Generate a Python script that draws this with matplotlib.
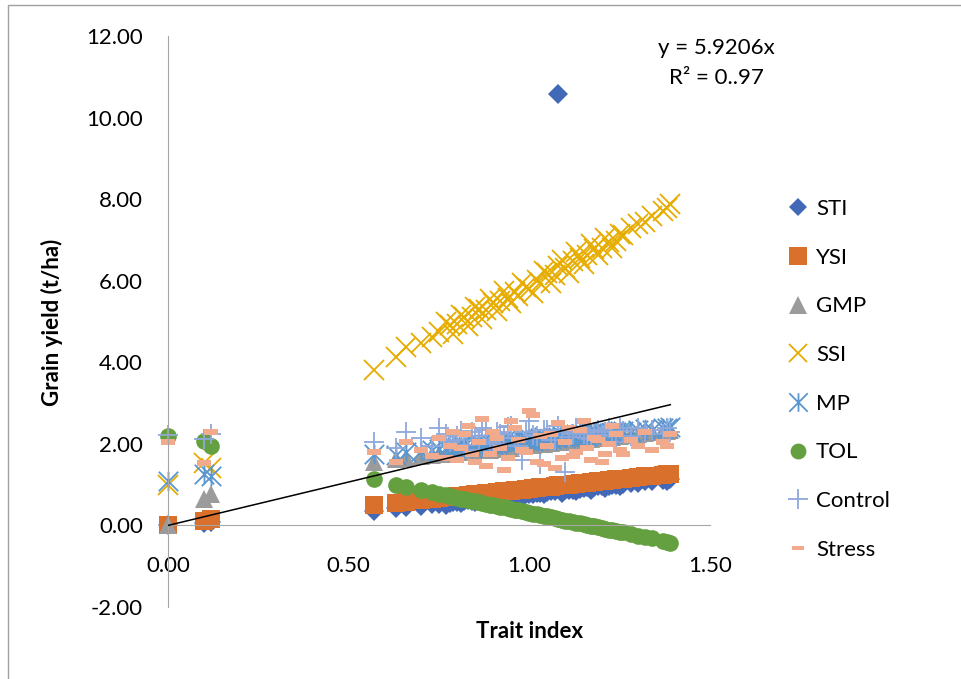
import matplotlib
matplotlib.use("Agg")
import matplotlib.pyplot as plt
from matplotlib.path import Path
from matplotlib.patches import Rectangle

plt.rcParams['font.family'] = ['Lato', 'DejaVu Sans']

# trait index values, first group of genotypes
trait_x = [0.00, 0.10, 0.12,
           0.57, 0.63, 0.66, 0.70, 0.73, 0.75, 0.78, 0.80, 0.82, 0.84,
           0.86, 0.88, 0.90, 0.92, 0.94, 0.96, 0.97, 0.99, 1.00, 1.02,
           1.03, 1.05, 1.07, 1.08, 1.10, 1.12, 1.14, 1.16, 1.18, 1.20,
           1.22, 1.24, 1.26, 1.28, 1.30, 1.32, 1.34, 1.37, 1.38, 1.39]

# second group (the dense middle part)
trait_x2 = [0.77, 0.79, 0.81, 0.83, 0.85, 0.87, 0.89, 0.91, 0.93, 0.95,
            0.98, 1.01, 1.04, 1.06, 1.09, 1.11, 1.13, 1.15, 1.17, 1.19,
            1.21, 1.23, 1.25]

sti = [0.00, 0.05, 0.08,
       0.35, 0.42, 0.44, 0.47, 0.52, 0.53, 0.56, 0.58, 0.60, 0.61,
       0.64, 0.66, 0.66, 0.70, 0.71, 0.72, 0.75, 0.76, 0.76, 0.80,
       0.79, 0.82, 0.84, 10.58, 0.86, 0.88, 0.89, 0.93, 0.93, 0.96,
       0.97, 1.00, 1.01, 1.04, 1.04, 1.08, 1.08, 1.12, 1.10, 1.14]
sti2 = [0.50, 0.58, 0.55, 0.62, 0.58, 0.66, 0.62, 0.70, 0.66, 0.73,
        0.70, 0.78, 0.76, 0.84, 0.80, 0.88, 0.84, 0.92, 0.88, 0.96,
        0.92, 1.00, 0.96]

ysi = [0.00, 0.10, 0.15,
       0.49, 0.55, 0.58, 0.62, 0.64, 0.67, 0.69, 0.71, 0.73, 0.75,
       0.77, 0.79, 0.80, 0.83, 0.84, 0.86, 0.87, 0.89, 0.90, 0.92,
       0.93, 0.95, 0.97, 0.98, 1.00, 1.01, 1.03, 1.05, 1.07, 1.09,
       1.11, 1.13, 1.15, 1.17, 1.18, 1.20, 1.22, 1.24, 1.25, 1.27]
ysi2 = [0.69, 0.70, 0.73, 0.74, 0.77, 0.78, 0.80, 0.81, 0.84, 0.85,
        0.88, 0.91, 0.94, 0.95, 0.99, 1.00, 1.02, 1.04, 1.06, 1.08,
        1.10, 1.12, 1.14]

gmp = [0.00, 0.66, 0.78,
       1.56, 1.62, 1.66, 1.70, 1.72, 1.74, 1.77, 1.79, 1.81, 1.82,
       1.85, 1.87, 1.88, 1.90, 1.92, 1.94, 1.95, 1.97, 1.98, 2.00,
       2.01, 2.03, 2.05, 2.06, 2.08, 2.09, 2.11, 2.13, 2.15, 2.17,
       2.18, 2.20, 2.22, 2.24, 2.25, 2.27, 2.29, 2.31, 2.32, 2.33]
gmp2 = [1.75, 1.78, 1.80, 1.80, 1.84, 1.85, 1.86, 1.89, 1.90, 1.91,
        1.95, 1.97, 2.00, 2.02, 2.04, 2.06, 2.08, 2.10, 2.12, 2.14,
        2.15, 2.17, 2.19]

ssi = [1.00, 1.52, 1.40,
       3.80, 4.12, 4.38, 4.48, 4.62, 4.75, 4.92, 4.95, 5.10, 5.12,
       5.30, 5.28, 5.45, 5.50, 5.58, 5.72, 5.62, 5.85, 5.80, 6.02,
       5.95, 6.18, 6.15, 6.35, 6.30, 6.48, 6.55, 6.62, 6.78, 6.80,
       6.95, 6.98, 7.12, 7.30, 7.40, 7.45, 7.58, 7.72, 7.78, 7.87]
ssi2 = [5.00, 4.70, 5.15, 4.90, 5.35, 5.05, 5.55, 5.25, 5.75, 5.45,
        5.95, 5.70, 6.25, 5.95, 6.50, 6.20, 6.70, 6.40, 6.90, 6.62,
        7.05, 6.80, 7.15]

mp = [1.08, 1.27, 1.20,
      1.76, 1.72, 1.80, 1.82, 1.86, 1.88, 1.85, 1.92, 1.94, 1.90,
      1.98, 2.00, 1.96, 2.04, 2.05, 2.02, 2.08, 2.10, 2.06, 2.12,
      2.14, 2.10, 2.17, 2.18, 2.15, 2.22, 2.23, 2.20, 2.26, 2.28,
      2.25, 2.30, 2.32, 2.29, 2.35, 2.36, 2.33, 2.40, 2.38, 2.42]
mp2 = [1.90, 1.88, 1.95, 1.93, 2.00, 1.97, 2.03, 2.00, 2.07, 2.04,
       2.12, 2.08, 2.16, 2.13, 2.20, 2.16, 2.24, 2.20, 2.27, 2.24,
       2.30, 2.26, 2.32]

tol = [2.20, 2.08, 1.95,
       1.15, 1.00, 0.95, 0.88, 0.82, 0.78, 0.72, 0.68, 0.64, 0.61,
       0.57, 0.53, 0.50, 0.46, 0.42, 0.38, 0.37, 0.33, 0.31, 0.27,
       0.25, 0.22, 0.18, 0.16, 0.12, 0.09, 0.05, 0.01, -0.02, -0.06,
       -0.10, -0.14, -0.17, -0.21, -0.25, -0.28, -0.32, -0.38, -0.40, -0.44]
tol2 = [0.74, 0.70, 0.66, 0.63, 0.59, 0.55, 0.51, 0.48, 0.44, 0.40,
        0.35, 0.29, 0.23, 0.20, 0.14, 0.10, 0.07, 0.03, -0.01, -0.05,
        -0.08, -0.12, -0.16]

control = [2.22, 2.13, 2.25,
           2.05, 1.90, 2.30, 2.15, 1.95, 2.40, 2.05, 2.20, 1.98, 2.28,
           2.10, 2.35, 2.00, 2.25, 2.42, 2.15, 1.95, 2.30, 2.55, 2.20,
           1.50, 2.35, 2.10, 2.45, 1.30, 2.25, 2.38, 2.15, 2.30, 2.22,
           2.40, 2.05, 2.32, 2.20, 2.38, 2.28, 2.35, 2.25, 2.40, 2.30]
control2 = [2.25, 2.10, 2.32, 1.85, 2.20, 2.38, 2.05, 2.28, 2.15, 2.45,
            1.60, 2.22, 2.35, 2.10, 2.30, 2.18, 2.40, 2.25, 2.12, 2.35,
            2.28, 2.20, 2.38]

stress = [2.05, 1.52, 2.28,
          1.80, 1.55, 2.05, 1.85, 1.70, 2.15, 1.95, 1.60, 2.25, 1.75,
          2.05, 1.45, 2.30, 1.90, 1.65, 2.40, 2.10, 1.80, 2.80, 1.55,
          2.20, 1.95, 1.40, 2.50, 2.05, 1.70, 2.35, 1.90, 2.15, 1.55,
          2.00, 2.25, 1.75, 2.10, 1.95, 2.30, 1.85, 2.05, 1.95, 2.25]
stress2 = [1.65, 2.30, 1.90, 2.45, 1.55, 2.60, 1.75, 2.15, 1.35, 2.55,
           1.85, 2.70, 1.50, 2.25, 1.65, 2.40, 1.80, 2.55, 1.60, 2.10,
           1.75, 2.45, 1.85]

trend_x = [0.0, 1.39]
trend_y = [0.0, 2.96]

labels = ["STI", "YSI", "GMP", "SSI", "MP", "TOL", "Control", "Stress"]
x_ticks = [0.0, 0.5, 1.0, 1.5]
y_ticks = [-2, 0, 2, 4, 6, 8, 10, 12]

# excel style asterisk and dash markers
star = Path([(-0.5, -0.5), (0.5, 0.5), (-0.5, 0.5), (0.5, -0.5), (0, -0.5), (0, 0.5)],
            [Path.MOVETO, Path.LINETO, Path.MOVETO, Path.LINETO, Path.MOVETO, Path.LINETO])
dash = Path([(-0.5, -0.2), (0.5, -0.2), (0.5, 0.2), (-0.5, 0.2), (-0.5, -0.2)],
            [Path.MOVETO, Path.LINETO, Path.LINETO, Path.LINETO, Path.CLOSEPOLY])

fig = plt.figure(figsize=(9.61, 6.79), dpi=100)
ax = fig.add_axes([168 / 961, 1 - 607 / 679, 542 / 961, 571 / 679])

styles = [
    dict(marker="D", ms=10, color="#4169B8", mew=0),
    dict(marker="s", ms=13, color="#D9702B", mew=0),
    dict(marker="^", ms=13, color="#9B9B9B", mew=0),
    dict(marker="x", ms=14, color="#E6AC00", mew=1.3),
    dict(marker=star, ms=14, color="#5A96D0", mew=1.3, mfc="none"),
    dict(marker="o", ms=12, color="#64A03F", mew=0),
    dict(marker="+", ms=15, color="#8FA8DC", mew=1.3),
    dict(marker=dash, ms=10.5, color="#F2AA8C", mew=0),
]
series = [(sti, sti2), (ysi, ysi2), (gmp, gmp2), (ssi, ssi2), (mp, mp2),
          (tol, tol2), (control, control2), (stress, stress2)]

for (ya, yb), lab, st in zip(series, labels, styles):
    ax.plot(trait_x + trait_x2, ya + yb, linestyle="none", label=lab, clip_on=False, **st)

ax.plot(trend_x, trend_y, color="black", lw=1.1, zorder=5)

ax.set_xlim(0, 1.5)
ax.set_ylim(-2, 12)
ax.set_xticks(x_ticks)
ax.set_yticks(y_ticks)
ax.set_xticklabels(["%.2f" % v for v in x_ticks])
ax.set_yticklabels(["%.2f" % v for v in y_ticks])
ax.tick_params(length=0, labelsize=16)
ax.tick_params(axis="y", pad=18)
ax.tick_params(axis="x", pad=22)

for s in ["top", "right"]:
    ax.spines[s].set_visible(False)
ax.spines["bottom"].set_position(("data", 0))
ax.spines["left"].set_color("#A6A6A6")
ax.spines["bottom"].set_color("#A6A6A6")
ax.patch.set_visible(False)

fig.text(52 / 961, 1 - 322 / 679, "Grain yield (t/ha)", rotation=90, ha="center", va="center",
         fontsize=16, fontweight="bold")
fig.text(530 / 961, 1 - 632 / 679, "Trait index", ha="center", va="center",
         fontsize=16, fontweight="bold")
fig.text(716 / 961, 1 - 48 / 679, "y = 5.9206x", ha="center", va="center", fontsize=16)
fig.text(716 / 961, 1 - 78 / 679, "R² = 0..97", ha="center", va="center", fontsize=16)

leg = fig.legend(loc="upper left", bbox_to_anchor=(767 / 961, 1 - 179 / 679), frameon=False,
                 fontsize=16, markerscale=0.95, handlelength=1.0, handletextpad=0.3,
                 labelspacing=1.29)
leg.legend_handles[7].set_markersize(8)

fig.patches.append(Rectangle((8 / 961, -0.05), 1.1, 1.05 - 5 / 679, transform=fig.transFigure,
                             fill=False, edgecolor="#A0A0A0", lw=1))

fig.savefig("out.png", dpi=100)
